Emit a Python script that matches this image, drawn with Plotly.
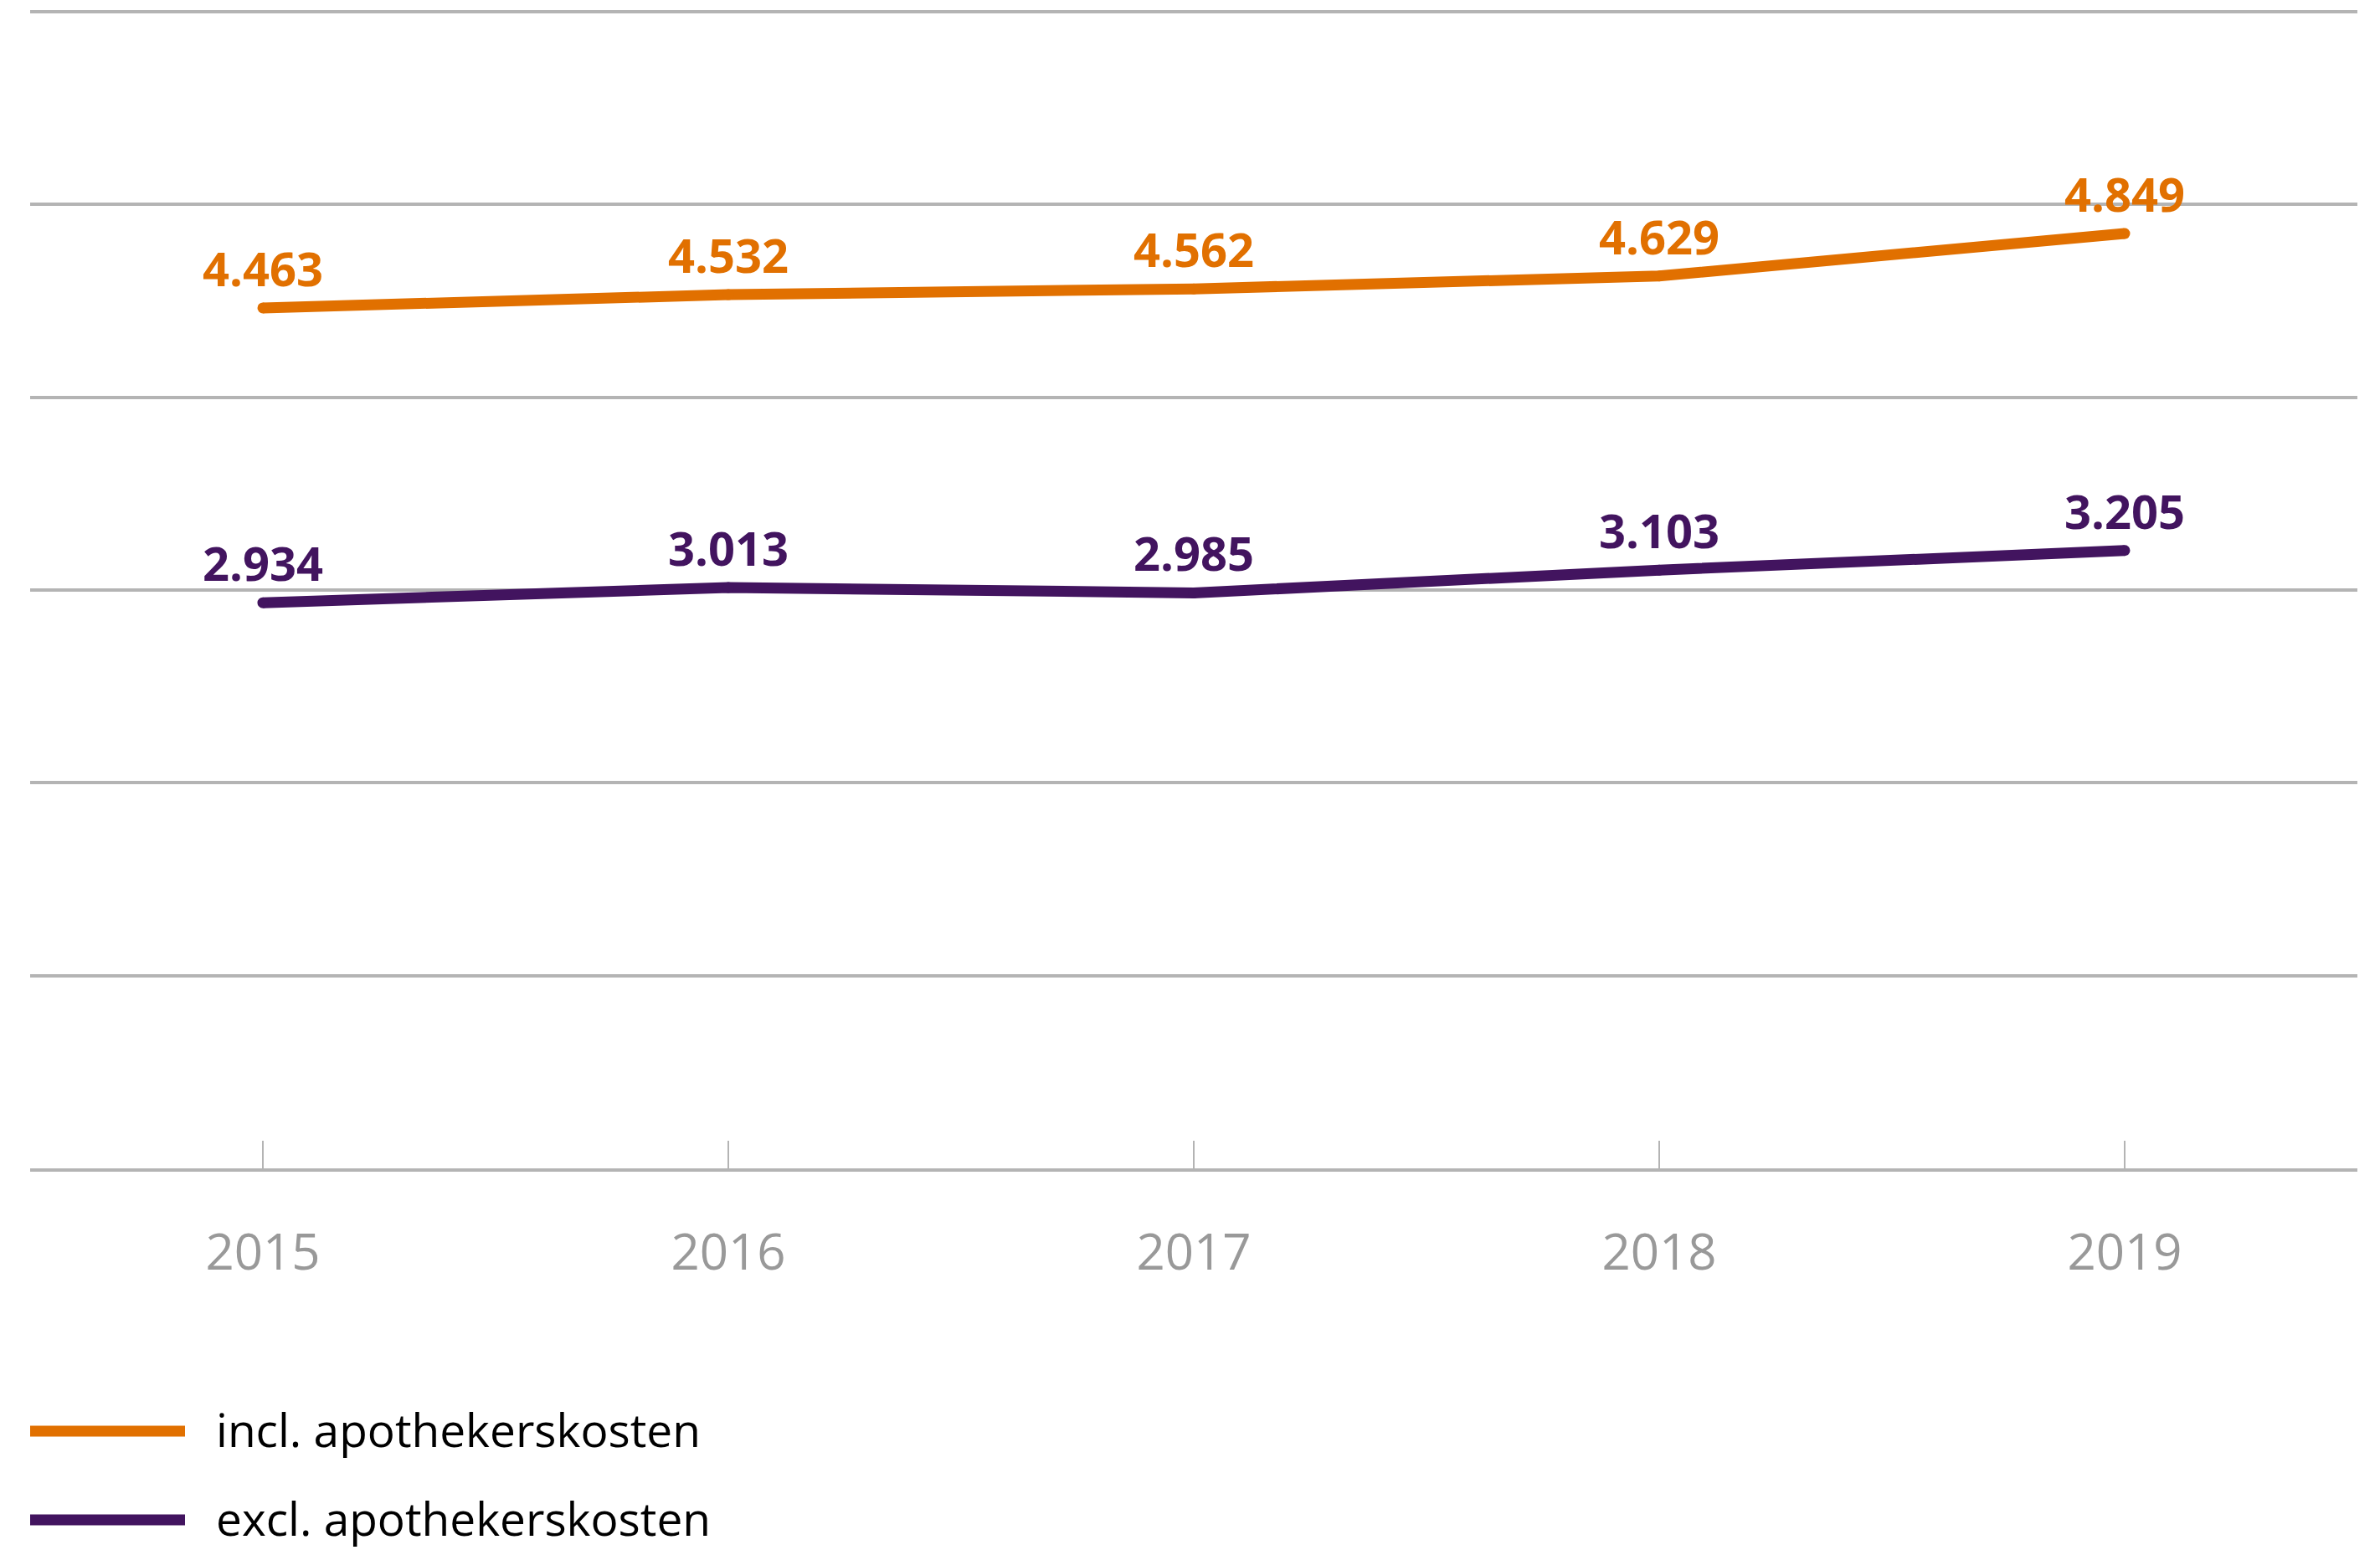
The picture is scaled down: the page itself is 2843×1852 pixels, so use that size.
import plotly.graph_objects as go

years = [2015, 2016, 2017, 2018, 2019]
incl_values = [4463, 4532, 4562, 4629, 4849]
excl_values = [2934, 3013, 2985, 3103, 3205]
series_names = ["incl. apothekerskosten", "excl. apothekerskosten"]
series_colors = ["#E17000", "#42145F"]
series_values = [incl_values, excl_values]

W, H = 2843, 1852
ML, MR, MT, MB = 36, 27, 7, 456
PW = W - ML - MR
PH = H - MT - MB
YMAX = 6030

fig = go.Figure()
annotations = []
for name, color, vals in zip(series_names, series_colors, series_values):
    fig.add_trace(go.Scatter(
        x=years, y=vals, mode="lines+markers", name=name,
        line=dict(color=color, width=13),
        marker=dict(color=color, size=13),
        showlegend=False, hoverinfo="skip",
    ))
    for x, v in zip(years, vals):
        annotations.append(dict(
            x=x, y=v, xref="x", yref="y",
            text=f"{v:,}".replace(",", "."),
            showarrow=False, xanchor="center", yanchor="middle", yshift=48,
            font=dict(family="Open Sans", size=56, color=color, weight="bold"),
        ))

# manual legend with long line swatches
shapes = []
leg_y_px = [1710, 1816]
for (name, color), ypx in zip(zip(series_names, series_colors), leg_y_px):
    yp = (H - MB - ypx) / PH
    shapes.append(dict(type="line", xref="paper", yref="paper",
                       x0=0, x1=(221 - ML) / PW, y0=yp, y1=yp,
                       line=dict(color=color, width=13)))
    annotations.append(dict(
        x=(256 - ML) / PW, y=yp, xref="paper", yref="paper",
        text=name, showarrow=False, xanchor="left", yanchor="middle",
        yshift=3,
        font=dict(family="Open Sans", size=55, color="#000000"),
    ))

fig.update_layout(
    width=W, height=H,
    margin=dict(l=ML, r=MR, t=MT, b=MB, pad=0),
    plot_bgcolor="white", paper_bgcolor="white",
    separators=",.",
    annotations=annotations, shapes=shapes,
    showlegend=False,
)
fig.update_xaxes(
    range=[2014.5, 2019.5], tickmode="array", tickvals=years,
    ticktext=[str(y) for y in years],
    showgrid=False, zeroline=False,
    showline=True, linecolor="#B4B4B4", linewidth=4,
    ticks="inside", ticklen=33, tickwidth=2, tickcolor="#B4B4B4",
    tickfont=dict(family="Open Sans", size=60, color="#999999"),
    ticklabelstandoff=45,
)
fig.update_yaxes(
    range=[0, YMAX], tickvals=[1000, 2000, 3000, 4000, 5000, 6000],
    showticklabels=False,
    showgrid=True, gridcolor="#B4B4B4", gridwidth=4,
    zeroline=False, showline=False,
)

fig.write_html("out.html", config={"displayModeBar": False},
               post_script="document.body.style.margin='0';")
